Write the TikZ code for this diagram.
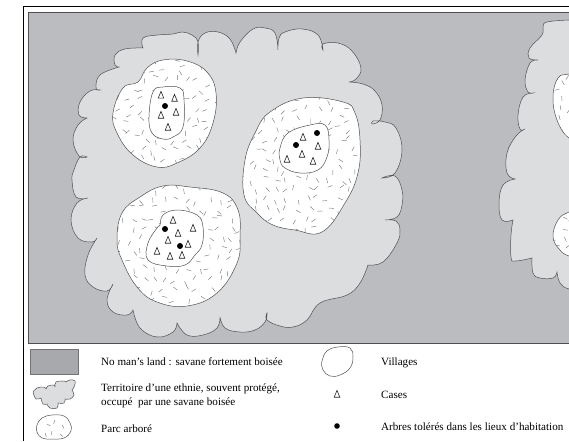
\documentclass[tikz,border=0pt]{standalone}
\usepackage{fontspec}
\setmainfont{Liberation Serif}
\definecolor{NoMans}{RGB}{187,188,192}
\definecolor{Territoire}{RGB}{220,221,223}
\definecolor{Contour}{RGB}{80,80,83}
\newcommand{\blob}[1]{plot[smooth cycle,tension=.7] coordinates {#1}}
\newcommand{\parcA}{\blob{(113,113)(123,88)(138,82)(147,68)(163,60)(187,61)(207,72)(216,93)(213,123)(200,148)(177,163)(157,167)(133,155)(117,133)}}
\newcommand{\parcB}{\blob{(244,195)(245,160)(255,133)(270,112)(303,98)(343,102)(355,113)(360,140)(358,173)(345,203)(322,232)(295,230)(273,225)(257,213)}}
\newcommand{\parcC}{\blob{(117,240)(122,213)(140,197)(163,186)(190,187)(223,193)(238,210)(240,237)(237,263)(217,293)(187,306)(157,302)(137,287)(122,260)}}
\newcommand{\parcD}{\blob{(590,70)(569,74)(558,78)(553,97)(557,120)(569,138)(590,145)}}
\newcommand{\parcE}{\blob{(590,205)(569,212)(558,220)(553,237)(560,250)(569,256)(590,262)}}
\tikzset{
  lobe/.style={smooth,tension=.7},
  trait/.style={draw=Contour,line width=0.5pt},
  village/.style={trait,fill=white},
  tiret/.style={draw=Contour!75,line width=0.45pt},
  caseT/.style={draw=black!85,line width=0.6pt,fill=white,line join=miter},
  arbre/.style={fill=black},
  legende/.style={anchor=west,inner sep=0pt,font=\fontsize{11.1}{14}\selectfont,align=left}
}
\begin{document}
\begin{tikzpicture}[x=1pt,y=-1pt]
  \useasboundingbox (0,0) rectangle (569,441);
  \clip (0,0) rectangle (569,441);
  \fill[white] (0,0) rectangle (569,441);
  % cadre
  \draw[black,line width=1pt] (23,441) -- (23,6.5) -- (575,6.5);
  \draw[Contour,line width=0.8pt,fill=NoMans] (28,12.5) rectangle (580,343.5);
  % territoires
  \draw[trait,fill=Territoire] plot[lobe] coordinates {(143,48)(143,38)(158,35)(173,34)(182,32)(192,35)(198,42)(198,55)}
    -- plot[lobe] coordinates {(198,55)(198,42)(205,33)(218,32)(230,39)(236,53)}
    -- plot[lobe] coordinates {(236,53)(240,42)(253,29)(265,28)(275,33)(278,50)}
    -- plot[lobe] coordinates {(278,50)(279,38)(285,32)(302,29)(318,35)(323,50)}
    -- plot[lobe] coordinates {(323,50)(323,44)(338,43)(352,51)(361,68)(356,79)(349,82)}
    -- plot[lobe] coordinates {(349,82)(363,84)(375,91)(382,105)(380,120)(372,124)}
    -- plot[lobe] coordinates {(372,124)(373,121)(385,122)(396,128)(402,150)(395,173)(382,178)}
    -- plot[lobe] coordinates {(382,178)(395,176)(402,190)(402,205)(397,217)(385,220)}
    -- plot[lobe] coordinates {(385,220)(396,221)(400,230)(397,243)(383,262)(368,265)}
    -- plot[lobe] coordinates {(368,265)(360,283)(347,295)(320,303)(307,320)(293,327)(280,326)(267,320)(267,313)}
    -- plot[lobe] coordinates {(267,313)(265,322)(255,330)(240,332)(225,328)(220,317)}
    -- plot[lobe] coordinates {(220,317)(217,328)(203,335)(187,335)(177,323)}
    -- plot[lobe] coordinates {(177,323)(173,332)(157,337)(140,328)(133,310)}
    -- plot[lobe] coordinates {(133,310)(127,315)(113,312)(107,300)(113,284)}
    -- plot[lobe] coordinates {(113,284)(107,291)(93,287)(85,275)(88,255)(97,238)}
    -- plot[lobe] coordinates {(97,238)(92,242)(78,238)(71,220)(77,203)(88,198)}
    -- plot[lobe] coordinates {(88,198)(76,197)(72,180)(74,170)(80,157)(87,157)}
    -- plot[lobe] coordinates {(87,157)(79,156)(73,140)(78,125)(87,118)}
    -- plot[lobe] coordinates {(87,118)(79,115)(80,102)(90,91)(100,90)}
    -- plot[lobe] coordinates {(100,90)(96,88)(100,75)(119,67)}
    -- plot[lobe] coordinates {(119,67)(115,65)(115,55)(125,49)(143,48)} -- cycle;
  \draw[trait,fill=Territoire] (590,20) -- plot[lobe] coordinates {(569,20)(547,22)(543,27)(542,35)(530,48)(529,58)(538,60)}
    -- plot[lobe] coordinates {(538,60)(530,63)(525,80)(528,92)(533,93)}
    -- plot[lobe] coordinates {(533,93)(523,97)(518,115)(520,129)(525,129)}
    -- plot[lobe] coordinates {(525,129)(516,136)(507,153)(507,173)(515,179)}
    -- plot[lobe] coordinates {(515,179)(503,185)(499,203)(502,220)(513,220)}
    -- plot[lobe] coordinates {(513,220)(511,235)(511,257)(515,261)(532,258)}
    -- plot[lobe] coordinates {(532,258)(533,273)(540,278)(553,278)(557,272)}
    -- plot[lobe] coordinates {(557,272)(560,283)(569,289)(590,292)} -- cycle;
  % parcs
  \foreach \p in {\parcA,\parcB,\parcC,\parcD,\parcE}
    \fill[white] \p;
  \begin{scope}
    \clip \parcA \parcB \parcC \parcD \parcE;
    \pgfmathsetseed{4217}
    \foreach \x in {110,121,...,590}
      \foreach \y in {58,68,...,310} {
        \pgfmathsetmacro{\px}{\x+3.5*rand}
        \pgfmathsetmacro{\py}{\y+3.5*rand}
        \pgfmathsetmacro{\ang}{180*rnd}
        \draw[tiret] (\px,\py) -- ++(\ang:5);
      }
  \end{scope}
  \foreach \p in {\parcA,\parcB,\parcC,\parcD,\parcE}
    \draw[trait] \p;
  % villages
  \draw[village] \blob{(153,92)(163,87)(180,88)(184,100)(183,127)(173,137)(163,139)(152,133)(149,117)};
  \draw[village] \blob{(280,148)(288,133)(310,125)(325,125)(329,140)(327,157)(318,170)(300,173)(285,168)(280,160)};
  \draw[village] \blob{(160,225)(163,215)(177,210)(197,215)(203,227)(202,245)(195,255)(185,265)(167,266)(148,260)(148,243)(157,228)};
  % cases
  \foreach \x/\y in {161/95,174.5/98,176/112,161/115,168/127,303/137,318/146,302/154,287/159,313/161,
    173/220,193/228,178/233,168/240,188/244,157/251,170/256,182/255,337/394}
    \draw[caseT] (\x-2.8,\y+3.2) -- (\x,\y-3.6) -- (\x+2.8,\y+3.2) -- cycle;
  % arbres
  \foreach \x/\y in {165/106,317/133,296/145,165/229,180/246}
    \fill[arbre] (\x,\y) circle (3);
  \fill[arbre] (337,426) circle (2.8);
  % legende
  \draw[draw=black!55,line width=0.8pt,fill=NoMans!90!black] (30.5,349) rectangle (78.5,374);
  \draw[trait,fill=Territoire] plot[lobe] coordinates {(33,392)(37,388)(44,387)(46,389)}
    -- plot[lobe] coordinates {(46,389)(48,386)(54,385)(55,387)}
    -- plot[lobe] coordinates {(55,387)(56,382)(64,381)(66,382)}
    -- plot[lobe] coordinates {(66,382)(70,380)(75,381)(74,387)(72,390)}
    -- plot[lobe] coordinates {(72,390)(74,395)(70,399)(65,399)}
    -- plot[lobe] coordinates {(65,399)(64,403)(58,403)}
    -- plot[lobe] coordinates {(58,403)(57,408)(50,408)(47,404)}
    -- plot[lobe] coordinates {(47,404)(43,404)(41,398)}
    -- plot[lobe] coordinates {(41,398)(36,399)(33,392)};
  \draw[trait] \blob{(37,425)(42,418)(52,415)(64,416)(70,423)(71,431)(64,438)(52,439)(42,438)(37,432)};
  \foreach \x/\y/\a in {47/424/30,55/420/110,62/425/60,45/433/70,52/431/100,60/434/40}
    \draw[tiret] (\x,\y) -- ++(\a:4);
  \draw[trait] \blob{(322,361)(327,351)(338,347)(350,348)(353,357)(350,368)(340,375)(330,376)(323,370)};
  \node[legende] (nomans) at (101,362) {No man's land : savane fortement boisée};
  \node[legende] (terr) at (101,396) {Territoire d'une ethnie, souvent protégé,\\occupé\ \ par une savane boisée};
  \node[legende] (parcleg) at (101,429) {Parc arboré};
  \node[legende] (vill) at (381,363) {Villages};
  \node[legende] (cases) at (381,395) {Cases};
  \node[legende] (arbres) at (381,427) {Arbres tolérés dans les lieux d'habitation};
\end{tikzpicture}
\end{document}
